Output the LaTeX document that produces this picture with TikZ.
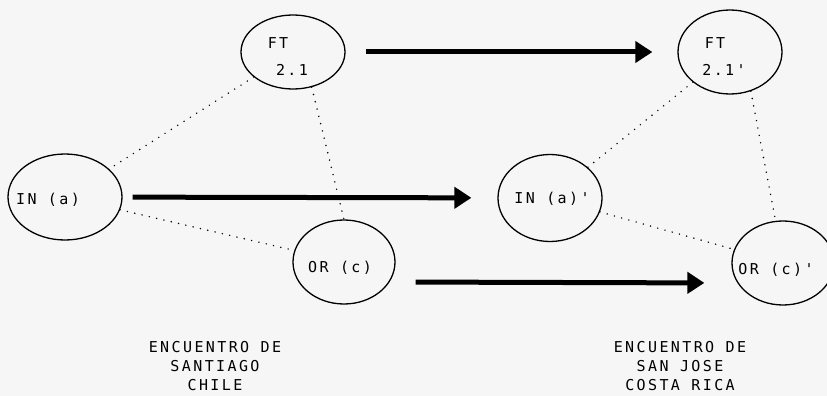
\documentclass[tikz,border=0pt]{standalone}
\usepackage{fontspec}
\newfontfamily\plotfont{DejaVu Sans Mono}[LetterSpace=16]
\usetikzlibrary{positioning, arrows.meta, shapes.geometric}

\begin{document}
\begin{tikzpicture}[
  x=1pt, y=-1pt,
  font=\plotfont\fontsize{15}{26}\selectfont,
  bubble/.style={ellipse, draw, line width=1.3pt, inner sep=0pt, align=center},
  link/.style={line width=1.6pt, line cap=round, dash pattern=on 0pt off 7.5pt},
  flow/.style={-{Triangle[length=17pt, width=21pt]}, line width=5pt},
  place/.style={align=center, font=\plotfont\fontsize{15}{19}\selectfont}
]
  \fill[gray!7] (0,0) rectangle (827,396);
  \useasboundingbox (0,0) rectangle (827,396);

  % Santiago
  \node[bubble, minimum width=104pt, minimum height=74pt,
        label={[xshift=-15pt, yshift=9pt]center:FT}, label={[xshift=-1pt, yshift=-18pt]center:2.1}] (ftA) at (293,52) {};
  \node[bubble, minimum width=114pt, minimum height=86pt,
        label={[xshift=-17pt, yshift=-3pt]center:IN (a)}] (inA) at (65,197) {};
  \node[bubble, minimum width=102pt, minimum height=84pt,
        label={[xshift=-4pt, yshift=-6pt]center:OR (c)}] (orA) at (344,262) {};

  % San Jose
  \node[bubble, minimum width=104pt, minimum height=84pt,
        label={[xshift=-15pt, yshift=9pt]center:FT}, label={[xshift=-6pt, yshift=-18pt]center:2.1'}] (ftB) at (730,52) {};
  \node[bubble, minimum width=104pt, minimum height=87pt,
        label={[xshift=2pt, yshift=-1pt]center:IN (a)'}] (inB) at (550,198) {};
  \node[bubble, minimum width=102pt, minimum height=84pt,
        label={[xshift=-7pt, yshift=-7pt]center:OR (c)'}] (orB) at (783,263) {};

  \draw[link] (ftA) -- (inA);
  \draw[link] (ftA.-62) -- (orA.north);
  \draw[link] (inA) -- (orA);
  \draw[link] (ftB) -- (inB);
  \draw[link] (ftB.-62) -- (orB.100);
  \draw[link] (inB) -- (orB);

  \draw[flow, shorten <=20pt, shorten >=25pt] (ftA) -- (ftB);
  \draw[flow, shorten <=10pt, shorten >=26pt] (inA) -- (inB);
  \draw[flow, shorten <=20pt, shorten >=27pt] ([yshift=-20pt]orA.east) -- ([yshift=-20pt]orB.west);

  \node[place] (santiago) at (215,366) {ENCUENTRO DE\\SANTIAGO\\CHILE};
  \node[place] (sanjose) at (680,366) {ENCUENTRO DE\\SAN JOSE\\COSTA RICA};
\end{tikzpicture}
\end{document}
